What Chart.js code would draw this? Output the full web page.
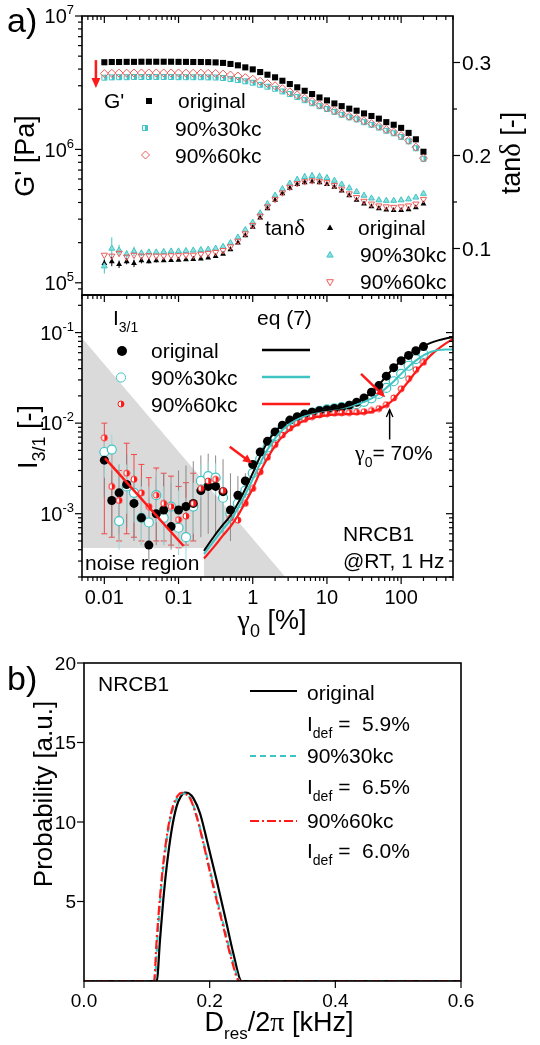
<!DOCTYPE html>
<html>
<head>
<meta charset="utf-8">
<title>NRCB1 rheology and NMR</title>
<script src="https://cdn.jsdelivr.net/npm/chart.js@4.4.1/dist/chart.umd.min.js"></script>
<style>
    html, body { margin: 0; padding: 0; background: #fff; }
    #wrap { position: relative; width: 540px; height: 1045px; overflow: hidden; }
    canvas { position: absolute; left: 0; }
</style>
</head>
<body>
<div id="wrap">
    <canvas id="modulusChart" width="540" height="300" style="top:0"></canvas>
    <canvas id="harmonicChart" width="540" height="360" style="top:290px"></canvas>
    <canvas id="probChart" width="540" height="405" style="top:640px"></canvas>
</div>
<script>
// strain amplitude gamma_0 [%]
const strain = [0.01, 0.0126, 0.0158, 0.02, 0.0251, 0.0316, 0.0398, 0.0501, 0.0631, 0.0794,
    0.1, 0.126, 0.158, 0.2, 0.251, 0.316, 0.398, 0.501, 0.631, 0.794,
    1, 1.26, 1.58, 2, 2.51, 3.16, 3.98, 5.01, 6.31, 7.94,
    10, 12.6, 15.8, 20, 25.1, 31.6, 39.8, 50.1, 63.1, 79.4,
    100, 126, 158, 200];

// G' [Pa]
const gOrig = [4.50e6, 4.52e6, 4.52e6, 4.53e6, 4.53e6, 4.54e6, 4.54e6, 4.54e6, 4.54e6, 4.54e6,
    4.53e6, 4.53e6, 4.52e6, 4.52e6, 4.51e6, 4.49e6, 4.45e6, 4.37e6, 4.27e6, 4.12e6,
    3.98e6, 3.80e6, 3.63e6, 3.47e6, 3.27e6, 3.09e6, 2.92e6, 2.75e6, 2.60e6, 2.45e6,
    2.33e6, 2.21e6, 2.11e6, 2.02e6, 1.95e6, 1.86e6, 1.78e6, 1.70e6, 1.60e6, 1.53e6,
    1.45e6, 1.33e6, 1.19e6, 9.6e5];
const g30 = [3.45e6, 3.47e6, 3.48e6, 3.48e6, 3.49e6, 3.49e6, 3.49e6, 3.49e6, 3.49e6, 3.49e6,
    3.48e6, 3.48e6, 3.48e6, 3.48e6, 3.47e6, 3.46e6, 3.43e6, 3.37e6, 3.31e6, 3.24e6,
    3.16e6, 3.05e6, 2.95e6, 2.85e6, 2.72e6, 2.60e6, 2.47e6, 2.34e6, 2.22e6, 2.11e6,
    2.01e6, 1.91e6, 1.82e6, 1.74e6, 1.68e6, 1.60e6, 1.53e6, 1.46e6, 1.38e6, 1.32e6,
    1.24e6, 1.15e6, 1.02e6, 8.5e5];
const g60 = [3.70e6, 3.72e6, 3.73e6, 3.73e6, 3.74e6, 3.74e6, 3.74e6, 3.74e6, 3.74e6, 3.74e6,
    3.74e6, 3.73e6, 3.73e6, 3.73e6, 3.72e6, 3.71e6, 3.67e6, 3.61e6, 3.55e6, 3.45e6,
    3.36e6, 3.24e6, 3.12e6, 3.00e6, 2.85e6, 2.70e6, 2.56e6, 2.42e6, 2.29e6, 2.16e6,
    2.05e6, 1.95e6, 1.86e6, 1.77e6, 1.71e6, 1.64e6, 1.56e6, 1.49e6, 1.41e6, 1.35e6,
    1.27e6, 1.17e6, 1.04e6, 8.6e5];

// tan delta [-]
const tanOrig = [0.084, 0.086, 0.083, 0.086, 0.084, 0.087, 0.086, 0.087, 0.087, 0.0872,
    0.0875, 0.088, 0.0885, 0.089, 0.090, 0.0915, 0.094, 0.099, 0.106, 0.114,
    0.123, 0.133, 0.143, 0.152, 0.159, 0.165, 0.169, 0.171, 0.172, 0.171,
    0.169, 0.166, 0.162, 0.157, 0.152, 0.148, 0.145, 0.143, 0.1415, 0.141,
    0.141, 0.142, 0.144, 0.148];
const tan30 = [0.081, 0.100, 0.098, 0.094, 0.097, 0.095, 0.096, 0.096, 0.0965, 0.097,
    0.097, 0.0975, 0.098, 0.0985, 0.099, 0.100, 0.102, 0.106, 0.112, 0.120,
    0.128, 0.138, 0.148, 0.157, 0.164, 0.170, 0.174, 0.177, 0.178, 0.1775,
    0.176, 0.173, 0.169, 0.165, 0.161, 0.157, 0.154, 0.152, 0.1515, 0.1515,
    0.152, 0.153, 0.155, 0.159];
const tan60 = [0.093, 0.092, 0.095, 0.091, 0.093, 0.092, 0.0925, 0.092, 0.092, 0.0925,
    0.0925, 0.093, 0.093, 0.094, 0.095, 0.096, 0.098, 0.102, 0.108, 0.116,
    0.125, 0.135, 0.145, 0.153, 0.160, 0.166, 0.170, 0.172, 0.173, 0.1725,
    0.171, 0.168, 0.164, 0.159, 0.155, 0.151, 0.148, 0.146, 0.145, 0.1445,
    0.145, 0.146, 0.148, 0.153];
const tanErrOrig = [0.004, 0.005, 0.004, 0.003, 0.004, 0.003, 0.002, 0.002];
const tanErr30 = [0.008, 0.012, 0.006, 0.004, 0.005, 0.003, 0.003, 0.002, 0.002, 0.002,
    0.002, 0.002, 0.002, 0.002, 0.002, 0.002, 0.002, 0.002, 0.002, 0.002,
    0.002, 0.002, 0.002, 0.003, 0.003, 0.003, 0.004, 0.004, 0.004, 0.004,
    0.003, 0.003, 0.003, 0.003];

// I3/1 [-]
const i3Orig = [3.9e-3, 1.4e-3, 1.7e-3, 2.1e-3, 1.3e-3, 9.0e-4, 4.5e-4, 1.0e-3, 1.1e-3, 7.2e-4,
    1.1e-3, 1.2e-3, 1.3e-3, 1.8e-3, 2.0e-3, 2.0e-3, 1.75e-3, 1.1e-3, 1.6e-3, 2.3e-3,
    3.5e-3, 4.8e-3, 6.3e-3, 8.0e-3, 9.5e-3, 1.08e-2, 1.18e-2, 1.26e-2, 1.32e-2, 1.37e-2,
    1.41e-2, 1.45e-2, 1.50e-2, 1.58e-2, 1.70e-2, 1.90e-2, 2.2e-2, 2.6e-2, 3.3e-2, 4.1e-2,
    4.9e-2, 5.6e-2, 6.3e-2, 7.0e-2];
const i3_30 = [4.8e-3, 5.1e-3, 8.3e-4, 2.0e-3, 1.7e-3, 9.0e-4, 8.0e-4, 1.6e-3, 9.0e-4, 1.2e-3,
    7.0e-4, 5.5e-4, 1.2e-3, 2.3e-3, 2.6e-3, 2.5e-3, 1.5e-3, 1.0e-3, 1.3e-3, 1.8e-3,
    2.8e-3, 4.0e-3, 5.4e-3, 7.2e-3, 8.8e-3, 1.02e-2, 1.14e-2, 1.23e-2, 1.31e-2, 1.37e-2,
    1.42e-2, 1.46e-2, 1.50e-2, 1.55e-2, 1.62e-2, 1.72e-2, 1.88e-2, 2.1e-2, 2.45e-2, 2.9e-2,
    3.5e-2, 4.3e-2, 5.1e-2, 5.8e-2];
const i3_60 = [6.9e-3, 2.0e-3, 1.4e-3, 2.8e-3, 2.4e-3, 1.7e-3, 1.2e-3, 1.6e-3, 1.3e-3, 1.2e-3,
    8.6e-4, 9.4e-4, 1.3e-3, 1.9e-3, 2.3e-3, 2.4e-3, 1.8e-3, 9.0e-4, 8.5e-4, 1.3e-3,
    1.9e-3, 2.9e-3, 4.2e-3, 5.8e-3, 7.4e-3, 8.8e-3, 1.0e-2, 1.1e-2, 1.18e-2, 1.23e-2,
    1.27e-2, 1.29e-2, 1.30e-2, 1.31e-2, 1.32e-2, 1.34e-2, 1.38e-2, 1.45e-2, 1.6e-2, 1.9e-2,
    2.4e-2, 3.1e-2, 3.9e-2, 4.7e-2];
const i3ErrHiOrig = [5.5e-3, 3.0e-3, 3.5e-3, 4.5e-3, 3.0e-3, 2.5e-3, 1.5e-3, 2.6e-3, 2.8e-3, 2.2e-3,
    3.0e-3, 3.4e-3, 3.8e-3, 4.4e-3, 4.6e-3, 4.4e-3, 4.0e-3, 2.8e-3, 2.6e-3, 2.8e-3];
const i3ErrLoOrig = [1.5e-3, 5.5e-4, 6e-4, 7e-4, 5e-4, 4.5e-4, 3e-4, 4.5e-4, 4.5e-4, 4e-4,
    4.5e-4, 4.5e-4, 5e-4, 5.5e-4, 6e-4, 6e-4, 6e-4, 5e-4, 8e-4, 1.5e-3];
const i3ErrHi30 = [7e-3, 7.5e-3, 3.5e-3, 3.5e-3, 3e-3, 2e-3, 2e-3, 3e-3, 2e-3, 2.5e-3,
    1.8e-3, 1.5e-3, 2.2e-3, 3.5e-3, 3.8e-3, 3.6e-3, 2.6e-3];
const i3ErrLo30 = [2.5e-3, 3e-3, 4e-4, 1e-3, 8e-4, 4.5e-4, 4e-4, 8e-4, 4.5e-4, 6e-4,
    3.5e-4, 3e-4, 6e-4, 1.5e-3, 1.7e-3, 1.6e-3, 8e-4];
const i3ErrHi60 = [1.0e-2, 5.0e-3, 3.0e-3, 6.0e-3, 4.5e-3, 3.5e-3, 2.5e-3, 3.2e-3, 2.8e-3, 2.6e-3,
    2.0e-3, 2.2e-3, 2.8e-3];
const i3ErrLo60 = [6e-4, 5.5e-4, 5e-4, 6e-4, 5.5e-4, 5e-4, 4.5e-4, 5e-4, 5e-4, 4.5e-4,
    4.2e-4, 4.5e-4, 5e-4];

// eq (7) curves
const fitStrain = [0.22, 0.3, 0.4, 0.5, 0.63, 0.8, 1, 1.26, 1.58, 2, 2.5, 3.16, 4, 5, 6.3, 8,
    10, 12.6, 15.8, 20, 25, 31.6, 40, 50, 63, 80, 100, 126, 158, 200, 250, 316, 400, 500];
const fitOrig = [3.9e-4, 5.6e-4, 7.6e-4, 9.5e-4, 1.3e-3, 1.9e-3, 2.8e-3, 4.3e-3, 6.2e-3, 8.0e-3,
    9.5e-3, 1.07e-2, 1.17e-2, 1.25e-2, 1.31e-2, 1.36e-2, 1.40e-2, 1.44e-2, 1.49e-2, 1.57e-2,
    1.70e-2, 1.90e-2, 2.2e-2, 2.65e-2, 3.3e-2, 4.1e-2, 4.9e-2, 5.7e-2, 6.4e-2, 7.1e-2,
    7.7e-2, 8.2e-2, 8.6e-2, 8.9e-2];
const fit30 = [3.6e-4, 5.0e-4, 6.8e-4, 8.5e-4, 1.15e-3, 1.65e-3, 2.4e-3, 3.6e-3, 5.1e-3, 6.8e-3,
    8.4e-3, 9.8e-3, 1.10e-2, 1.20e-2, 1.28e-2, 1.34e-2, 1.39e-2, 1.43e-2, 1.47e-2, 1.53e-2,
    1.61e-2, 1.72e-2, 1.88e-2, 2.1e-2, 2.45e-2, 2.9e-2, 3.5e-2, 4.2e-2, 4.9e-2, 5.6e-2,
    6.1e-2, 6.4e-2, 6.5e-2, 6.5e-2];
const fit60 = [3.2e-4, 4.3e-4, 5.8e-4, 7.2e-4, 9.5e-4, 1.35e-3, 1.9e-3, 2.9e-3, 4.1e-3, 5.6e-3,
    7.1e-3, 8.5e-3, 9.7e-3, 1.07e-2, 1.14e-2, 1.19e-2, 1.22e-2, 1.24e-2, 1.25e-2, 1.26e-2,
    1.27e-2, 1.29e-2, 1.33e-2, 1.42e-2, 1.57e-2, 1.85e-2, 2.3e-2, 2.9e-2, 3.7e-2, 4.6e-2,
    5.6e-2, 6.6e-2, 7.6e-2, 8.5e-2];
const noiseFitX = [0.0102, 0.117];
const noiseFitY = [4.1e-3, 4.4e-4];
const noiseCornerX = [0.005, 0.005, 2.75];
const noiseCornerY = [0.087, 2e-4, 2e-4];

// arrows (data coordinates)
const dropArrowX = [0.0077, 0.0077];
const dropArrowY = [4.67e6, 2.88e6];
const onsetArrowX = [0.49, 0.98];
const onsetArrowY = [5.5e-3, 3.6e-3];
const secondArrowX = [28.8, 61];
const secondArrowY = [0.035, 0.0193];
const markArrowX = [70, 70];
const markArrowY = [6.6e-3, 1.41e-2];

// b) residual dipolar coupling distributions
const dResOrig = [0, 0.1157, 0.121, 0.1262, 0.1316, 0.1395, 0.1475, 0.154, 0.1607, 0.167, 0.174, 0.1846, 0.1953, 0.211, 0.227, 0.2376, 0.251, 0.6];
const probOrig = [0, 0, 2.6, 5.1, 7.2, 9.5, 11.0, 11.6, 11.85, 11.8, 11.5, 10.55, 8.9, 6.35, 3.6, 1.75, 0, 0];
const dRes30 = [0, 0.1125, 0.117, 0.122, 0.127, 0.135, 0.143, 0.15, 0.157, 0.163, 0.17, 0.18, 0.191, 0.207, 0.223, 0.236, 0.249, 0.6];
const prob30 = [0, 0, 2.7, 5.4, 7.4, 9.7, 11.0, 11.6, 11.8, 11.75, 11.45, 10.3, 8.6, 5.9, 3.4, 1.4, 0, 0];
const dRes60 = [0, 0.1114, 0.1157, 0.121, 0.1262, 0.1342, 0.1421, 0.149, 0.1555, 0.162, 0.1687, 0.1793, 0.19, 0.2058, 0.2217, 0.235, 0.2472, 0.6];
const prob60 = [0, 0, 2.6, 5.3, 7.4, 9.7, 11.07, 11.65, 11.84, 11.75, 11.49, 10.33, 8.66, 5.93, 3.41, 1.32, 0, 0];
const defectLabels = ['5.9%', '6.5%', '6.0%'];

// ticks
const strainTicks = [0.01, 0.1, 1, 10, 100];
const strainTickLabels = ['0.01', '0.1', '1', '10', '100'];
const modulusTicks = [1e5, 1e6, 1e7];
const modulusExp = ['5', '6', '7'];
const tanTicks = [0.1, 0.2, 0.3];
const harmonicTicks = [1e-3, 1e-2, 1e-1];
const harmonicExp = ['-3', '-2', '-1'];
const dResTicks = [0, 0.2, 0.4, 0.6];
const dResTickLabels = ['0.0', '0.2', '0.4', '0.6'];
const probTicks = [5, 10, 15, 20];

const SANS = '"Liberation Sans", Arial, sans-serif';
const SERIF = '"Liberation Serif", "Times New Roman", serif';
const CYAN = '#3fc4c4';
const RED = '#ff1a1a';
const PINK = '#f05a5a';

function pts(xs, ys) {
    return xs.map((x, i) => ({ x, y: ys[i] }));
}

function T(t, size, dy, fam) {
    return { t, size, dy: dy || 0, fam: fam || SANS };
}

function drawRich(ctx, parts, x, y, align) {
    let w = 0;
    parts.forEach(p => { ctx.font = p.size + 'px ' + p.fam; p.w = ctx.measureText(p.t).width; w += p.w; });
    let cx = align === 'center' ? x - w / 2 : (align === 'right' ? x - w : x);
    ctx.textAlign = 'left';
    ctx.textBaseline = 'alphabetic';
    parts.forEach(p => {
        ctx.font = p.size + 'px ' + p.fam;
        ctx.fillText(p.t, cx, y + p.dy);
        cx += p.w;
    });
}

function drawTitle(ctx, parts, cx, cy, rotated) {
    ctx.save();
    ctx.translate(cx, cy);
    if (rotated) ctx.rotate(-Math.PI / 2);
    ctx.fillStyle = '#000';
    drawRich(ctx, parts, 0, parts[0].size * 0.36, 'center');
    ctx.restore();
}

function logMinor(lo, hi) {
    const out = [];
    for (let e = -6; e <= 8; e++) {
        for (let m = 2; m <= 9; m++) {
            const v = m * Math.pow(10, e);
            if (v >= lo * 0.999 && v <= hi * 1.001) out.push(v);
        }
    }
    return out;
}

function arrow(ctx, x1, y1, x2, y2, color, lw, head, solid) {
    const ang = Math.atan2(y2 - y1, x2 - x1);
    const spread = 0.42;
    ctx.save();
    ctx.strokeStyle = color;
    ctx.fillStyle = color;
    ctx.lineWidth = lw;
    const ex = solid ? x2 - head * 0.7 * Math.cos(ang) : x2;
    const ey = solid ? y2 - head * 0.7 * Math.sin(ang) : y2;
    ctx.beginPath();
    ctx.moveTo(x1, y1);
    ctx.lineTo(ex, ey);
    ctx.stroke();
    const ax1 = x2 - head * Math.cos(ang - spread), ay1 = y2 - head * Math.sin(ang - spread);
    const ax2 = x2 - head * Math.cos(ang + spread), ay2 = y2 - head * Math.sin(ang + spread);
    ctx.beginPath();
    if (solid) {
        ctx.moveTo(x2, y2); ctx.lineTo(ax1, ay1); ctx.lineTo(ax2, ay2); ctx.closePath(); ctx.fill();
    } else {
        ctx.lineWidth = lw * 0.9;
        ctx.moveTo(ax1, ay1); ctx.lineTo(x2, y2); ctx.lineTo(ax2, ay2); ctx.stroke();
    }
    ctx.restore();
}

function marker(ctx, kind, x, y, r, fill, stroke) {
    ctx.save();
    ctx.beginPath();
    if (kind === 'square') ctx.rect(x - r, y - r, 2 * r, 2 * r);
    else if (kind === 'diamond') { ctx.moveTo(x, y - r); ctx.lineTo(x + r, y); ctx.lineTo(x, y + r); ctx.lineTo(x - r, y); ctx.closePath(); }
    else if (kind === 'tri') { ctx.moveTo(x, y - r); ctx.lineTo(x + r * 0.9, y + r * 0.6); ctx.lineTo(x - r * 0.9, y + r * 0.6); ctx.closePath(); }
    else if (kind === 'triDown') { ctx.moveTo(x, y + r); ctx.lineTo(x + r * 0.9, y - r * 0.6); ctx.lineTo(x - r * 0.9, y - r * 0.6); ctx.closePath(); }
    else ctx.arc(x, y, r, 0, Math.PI * 2);
    if (fill) { ctx.fillStyle = fill; ctx.fill(); }
    if (stroke) { ctx.strokeStyle = stroke; ctx.lineWidth = 1; ctx.stroke(); }
    ctx.restore();
}

// half filled symbols used by Origin for the modified samples
function halfMarker(shape, color, size) {
    const c = document.createElement('canvas');
    c.width = size;
    c.height = size;
    const g = c.getContext('2d');
    const m = size / 2;
    g.lineWidth = 1;
    g.strokeStyle = color;
    g.fillStyle = '#fff';
    g.beginPath();
    if (shape === 'square') g.rect(1.5, 1.5, size - 3, size - 3);
    else g.arc(m, m, m - 1, 0, Math.PI * 2);
    g.fill();
    g.stroke();
    g.save();
    g.clip();
    g.fillStyle = color;
    g.fillRect(m, 0, m, size);
    g.restore();
    return c;
}

const errorBars = {
    id: 'errorBars',
    beforeDatasetsDraw(chart) {
        const ctx = chart.ctx, a = chart.chartArea;
        ctx.save();
        ctx.beginPath();
        ctx.rect(a.left, a.top, a.right - a.left, a.bottom - a.top);
        ctx.clip();
        chart.data.datasets.forEach(ds => {
            if (!ds.err && !ds.errHi) return;
            const xs = chart.scales[ds.xAxisID || 'x'];
            const ys = chart.scales[ds.yAxisID || 'y'];
            ctx.strokeStyle = ds.errColor;
            ctx.lineWidth = 1;
            ds.data.forEach((p, k) => {
                let hi, lo;
                if (ds.err) {
                    if (ds.err[k] == null) return;
                    hi = p.y + ds.err[k]; lo = p.y - ds.err[k];
                } else {
                    if (ds.errHi[k] == null) return;
                    hi = ds.errHi[k]; lo = ds.errLo[k];
                }
                const px = xs.getPixelForValue(p.x);
                const y1 = ys.getPixelForValue(hi), y2 = ys.getPixelForValue(lo);
                ctx.beginPath();
                ctx.moveTo(px, y1);
                ctx.lineTo(px, y2);
                if (ds.errCap) {
                    ctx.moveTo(px - 3, y1); ctx.lineTo(px + 3, y1);
                    ctx.moveTo(px - 3, y2); ctx.lineTo(px + 3, y2);
                }
                ctx.stroke();
            });
        });
        ctx.restore();
    }
};

function frameAxes(axes) {
    return {
        id: 'frameAxes',
        afterDraw(chart) {
            const ctx = chart.ctx, a = chart.chartArea;
            ctx.save();
            ctx.strokeStyle = '#000';
            ctx.fillStyle = '#000';
            ctx.lineWidth = 1.6;
            ctx.strokeRect(a.left, a.top, a.right - a.left, a.bottom - a.top);
            ctx.lineWidth = 1.2;
            axes.forEach(ax => {
                const s = chart.scales[ax.scale];
                const horiz = ax.pos === 'top' || ax.pos === 'bottom';
                const edge = { top: a.top, bottom: a.bottom, left: a.left, right: a.right }[ax.pos];
                const sign = (ax.pos === 'bottom' || ax.pos === 'right' ? 1 : -1) * (ax.dir === 'in' ? -1 : 1);
                const mark = (v, len) => {
                    const p = s.getPixelForValue(v);
                    ctx.beginPath();
                    if (horiz) { ctx.moveTo(p, edge); ctx.lineTo(p, edge + sign * len); }
                    else { ctx.moveTo(edge, p); ctx.lineTo(edge + sign * len, p); }
                    ctx.stroke();
                };
                (ax.minor || []).forEach(v => mark(v, 4));
                (ax.major || []).forEach(v => mark(v, 7));
                (ax.labels || []).forEach(l => {
                    const p = s.getPixelForValue(l.v);
                    const size = l.parts[0].size;
                    if (ax.pos === 'bottom') drawRich(ctx, l.parts, p, edge + ax.gap, 'center');
                    else if (ax.pos === 'left') drawRich(ctx, l.parts, edge - ax.gap, p + size * 0.36, 'right');
                    else if (ax.pos === 'right') drawRich(ctx, l.parts, edge + ax.gap, p + size * 0.36, 'left');
                });
            });
            ctx.restore();
        }
    };
}

const pow10 = e => [T('10', 20), T(e, 13, -9)];

document.addEventListener('DOMContentLoaded', () => {
    const halfSquare = halfMarker('square', CYAN, 8);
    const halfCircle = halfMarker('circle', RED, 8);

    const common = {
        responsive: false,
        animation: false,
        devicePixelRatio: 1,
        events: [],
        plugins: { legend: { display: false }, tooltip: { enabled: false } }
    };

    // ---------- a) top: G' and tan delta ----------
    const modulusNotes = {
        id: 'modulusNotes',
        afterDatasetsDraw(chart) {
            const ctx = chart.ctx, xs = chart.scales.x, ys = chart.scales.y;
            arrow(ctx, xs.getPixelForValue(dropArrowX[0]), ys.getPixelForValue(dropArrowY[0]),
                xs.getPixelForValue(dropArrowX[1]), ys.getPixelForValue(dropArrowY[1]), RED, 2.5, 11, true);
            ctx.save();
            ctx.fillStyle = '#000';
            drawRich(ctx, [T('G\'', 21)], 104, 108, 'left');
            marker(ctx, 'square', 149, 101, 3, '#000');
            drawRich(ctx, [T('original', 21)], 178, 108, 'left');
            ctx.drawImage(halfSquare, 141, 124);
            drawRich(ctx, [T('90%30kc', 21)], 175, 136, 'left');
            marker(ctx, 'diamond', 145.5, 155, 4, '#fff', PINK);
            drawRich(ctx, [T('90%60kc', 21)], 175, 163, 'left');

            drawRich(ctx, [T('tan', 21), T('\u03b4', 23, 0, SERIF)], 265, 235, 'left');
            marker(ctx, 'tri', 330, 228, 3.5, '#000');
            drawRich(ctx, [T('original', 21)], 358, 235, 'left');
            marker(ctx, 'tri', 330, 255, 3.5, '#8fdede', CYAN);
            drawRich(ctx, [T('90%30kc', 21)], 360, 262, 'left');
            marker(ctx, 'triDown', 330, 282, 3.8, '#fff', PINK);
            drawRich(ctx, [T('90%60kc', 21)], 360, 289, 'left');

            drawRich(ctx, [T('a)', 34)], 7, 32, 'left');
            drawTitle(ctx, [T('G\' [Pa]', 27)], 24, 156, true);
            drawTitle(ctx, [T('tan', 27), T('\u03b4', 29, 0, SERIF), T(' [-]', 27)], 510, 153, true);
            ctx.restore();
        }
    };

    new Chart(document.getElementById('modulusChart'), {
        type: 'scatter',
        data: {
            datasets: [
                { data: pts(strain, g60), pointStyle: 'rectRot', pointRadius: 4, backgroundColor: 'rgba(255,255,255,0)', borderColor: PINK, borderWidth: 1, order: 1 },
                { data: pts(strain, g30), pointStyle: halfSquare, order: 2 },
                { data: pts(strain, gOrig), pointStyle: 'rect', pointRadius: 4.3, backgroundColor: '#000', borderColor: '#000', borderWidth: 0, order: 3 },
                { data: pts(strain, tan60), yAxisID: 'y2', pointStyle: 'triangle', rotation: 180, pointRadius: 3.6, backgroundColor: 'rgba(255,255,255,0)', borderColor: PINK, borderWidth: 1, order: 1 },
                { data: pts(strain, tan30), yAxisID: 'y2', pointStyle: 'triangle', pointRadius: 3.4, backgroundColor: '#8fdede', borderColor: CYAN, borderWidth: 1, order: 2, err: tanErr30, errColor: CYAN },
                { data: pts(strain, tanOrig), yAxisID: 'y2', pointStyle: 'triangle', pointRadius: 3.4, backgroundColor: '#000', borderColor: '#000', borderWidth: 0, order: 3, err: tanErrOrig, errColor: '#000' }
            ]
        },
        options: {
            ...common,
            layout: { autoPadding: false, padding: { left: 82, right: 87, top: 16, bottom: 5 } },
            scales: {
                x: { type: 'logarithmic', min: 0.005, max: 500, display: false },
                y: { type: 'logarithmic', min: 8.1e4, max: 1e7, display: false },
                y2: { type: 'linear', axis: 'y', min: 0.05, max: 0.35, display: false }
            }
        },
        plugins: [errorBars, modulusNotes, frameAxes([
            { scale: 'x', pos: 'top', dir: 'in', major: strainTicks, minor: logMinor(0.005, 500) },
            { scale: 'y', pos: 'left', dir: 'out', major: modulusTicks, minor: logMinor(8.1e4, 1e7), gap: 8,
                labels: modulusTicks.map((v, i) => ({ v, parts: pow10(modulusExp[i]) })) },
            { scale: 'y2', pos: 'right', dir: 'out', major: tanTicks, minor: [0.15, 0.25], gap: 9,
                labels: tanTicks.map(v => ({ v, parts: [T(v.toFixed(1), 21)] })) }
        ])]
    });

    // ---------- a) bottom: I3/1 ----------
    const noiseShade = {
        id: 'noiseShade',
        beforeDatasetsDraw(chart) {
            const ctx = chart.ctx, xs = chart.scales.x, ys = chart.scales.y, a = chart.chartArea;
            ctx.save();
            ctx.fillStyle = '#dadada';
            ctx.beginPath();
            noiseCornerX.forEach((x, i) => {
                const px = xs.getPixelForValue(x), py = ys.getPixelForValue(noiseCornerY[i]);
                if (i) ctx.lineTo(px, py); else ctx.moveTo(px, py);
            });
            ctx.closePath();
            ctx.fill();
            ctx.fillStyle = '#fff';
            ctx.fillRect(a.left, a.bottom - 29, 122, 29);
            ctx.fillStyle = '#000';
            drawRich(ctx, [T('noise region', 21)], a.left + 3, a.bottom - 7, 'left');
            ctx.restore();
        }
    };

    const harmonicNotes = {
        id: 'harmonicNotes',
        afterDatasetsDraw(chart) {
            const ctx = chart.ctx, xs = chart.scales.x, ys = chart.scales.y;
            const px = v => xs.getPixelForValue(v), py = v => ys.getPixelForValue(v);
            arrow(ctx, px(onsetArrowX[0]), py(onsetArrowY[0]), px(onsetArrowX[1]), py(onsetArrowY[1]), RED, 2.5, 10, true);
            arrow(ctx, px(secondArrowX[0]), py(secondArrowY[0]), px(secondArrowX[1]), py(secondArrowY[1]), RED, 2.5, 10, true);
            arrow(ctx, px(markArrowX[0]), py(markArrowY[0]), px(markArrowX[1]), py(markArrowY[1]), '#000', 1.5, 8, false);
            ctx.save();
            ctx.translate(0, -290);
            ctx.fillStyle = '#000';
            drawRich(ctx, [T('I', 21), T('3/1', 14, 7)], 113, 325, 'left');
            drawRich(ctx, [T('eq (7)', 21)], 257, 325, 'left');
            marker(ctx, 'circle', 122, 351, 5, '#000');
            drawRich(ctx, [T('original', 21)], 151, 358, 'left');
            marker(ctx, 'circle', 121, 377.5, 4.6, '#fff', CYAN);
            drawRich(ctx, [T('90%30kc', 21)], 151, 385, 'left');
            ctx.drawImage(halfCircle, 117, 400);
            drawRich(ctx, [T('90%60kc', 21)], 151, 412, 'left');
            [['#000', 350], [CYAN, 377], [RED, 404]].forEach(([c, y]) => {
                ctx.strokeStyle = c;
                ctx.lineWidth = 2.5;
                ctx.beginPath(); ctx.moveTo(262, y); ctx.lineTo(310, y); ctx.stroke();
            });
            drawRich(ctx, [T('\u03b3', 22, 0, SERIF), T('0', 14, 7), T('= 70%', 21)], 355, 460, 'left');
            drawRich(ctx, [T('NRCB1', 21)], 343, 541, 'left');
            drawRich(ctx, [T('@RT, 1 Hz', 21)], 343, 568, 'left');
            drawTitle(ctx, [T('I', 27), T('3/1', 18, 8), T(' [-]', 27)], 27, 437, true);
            drawRich(ctx, [T('\u03b3', 28, 0, SERIF), T('0', 18, 8), T(' [%]', 27)], 272, 629, 'center');
            ctx.restore();
        }
    };

    new Chart(document.getElementById('harmonicChart'), {
        type: 'scatter',
        data: {
            datasets: [
                { data: pts(fitStrain, fitOrig), showLine: true, borderColor: '#000', borderWidth: 2, pointRadius: 0, cubicInterpolationMode: 'monotone', order: 0 },
                { data: pts(fitStrain, fit30), showLine: true, borderColor: CYAN, borderWidth: 2, pointRadius: 0, cubicInterpolationMode: 'monotone', order: 0 },
                { data: pts(fitStrain, fit60), showLine: true, borderColor: RED, borderWidth: 2.2, pointRadius: 0, cubicInterpolationMode: 'monotone', order: 0 },
                { data: pts(noiseFitX, noiseFitY), showLine: true, borderColor: RED, borderWidth: 2.5, pointRadius: 0, order: 0 },
                { data: pts(strain, i3_60), pointStyle: halfCircle, order: 1, errHi: i3ErrHi60, errLo: i3ErrLo60, errColor: '#f04848', errCap: true },
                { data: pts(strain, i3Orig), pointStyle: 'circle', pointRadius: 4.5, backgroundColor: '#000', borderWidth: 0, order: 2, errHi: i3ErrHiOrig, errLo: i3ErrLoOrig, errColor: '#8a8a8a' },
                { data: pts(strain, i3_30), pointStyle: 'circle', pointRadius: 4.5, backgroundColor: '#fff', borderColor: CYAN, borderWidth: 1.2, order: 3, errHi: i3ErrHi30, errLo: i3ErrLo30, errColor: '#9ad9d9' }
            ]
        },
        options: {
            ...common,
            layout: { autoPadding: false, padding: { left: 82, right: 87, top: 5, bottom: 73 } },
            scales: {
                x: { type: 'logarithmic', min: 0.005, max: 500, display: false },
                y: { type: 'logarithmic', min: 2e-4, max: 0.26, display: false }
            }
        },
        plugins: [noiseShade, errorBars, harmonicNotes, frameAxes([
            { scale: 'x', pos: 'top', dir: 'in', major: strainTicks, minor: logMinor(0.005, 500) },
            { scale: 'x', pos: 'bottom', dir: 'out', major: strainTicks, minor: logMinor(0.005, 500), gap: 27,
                labels: strainTicks.map((v, i) => ({ v, parts: [T(strainTickLabels[i], 20)] })) },
            { scale: 'y', pos: 'left', dir: 'out', major: harmonicTicks, minor: logMinor(2e-4, 0.26), gap: 8,
                labels: harmonicTicks.map((v, i) => ({ v, parts: pow10(harmonicExp[i]) })) },
            { scale: 'y', pos: 'right', dir: 'in', major: harmonicTicks, minor: logMinor(2e-4, 0.26) }
        ])]
    });

    // ---------- b) probability distributions ----------
    const probNotes = {
        id: 'probNotes',
        afterDatasetsDraw(chart) {
            const ctx = chart.ctx;
            ctx.save();
            ctx.translate(0, -640);
            ctx.fillStyle = '#000';
            drawRich(ctx, [T('b)', 34)], 7, 690, 'left');
            drawRich(ctx, [T('NRCB1', 21)], 98, 691, 'left');
            const rows = [
                { name: 'original', color: '#000', dash: [], y: 691, base: 700, defBase: 731 },
                { name: '90%30kc', color: CYAN, dash: [6, 4], y: 756, base: 763, defBase: 794 },
                { name: '90%60kc', color: RED, dash: [9, 3, 2, 3], y: 821, base: 828, defBase: 858 }
            ];
            rows.forEach((r, i) => {
                ctx.strokeStyle = r.color;
                ctx.lineWidth = 2.2;
                ctx.setLineDash(r.dash);
                ctx.beginPath(); ctx.moveTo(250, r.y); ctx.lineTo(297, r.y); ctx.stroke();
                ctx.setLineDash([]);
                drawRich(ctx, [T(r.name, 21)], 307, r.base, 'left');
                drawRich(ctx, [T('I', 21), T('def', 14, 7), T(' =  ' + defectLabels[i], 21)], 307, r.defBase, 'left');
            });
            drawTitle(ctx, [T('Probability [a.u.]', 26)], 43, 794, true);
            drawRich(ctx, [T('D', 27), T('res', 17, 8), T('/2', 27), T('\u03c0', 28, 0, SERIF), T(' [kHz]', 27)], 279, 1031, 'center');
            ctx.restore();
        }
    };

    new Chart(document.getElementById('probChart'), {
        type: 'scatter',
        data: {
            datasets: [
                { data: pts(dRes60, prob60), showLine: true, borderColor: RED, borderWidth: 2.2, borderDash: [9, 3, 2, 3], pointRadius: 0, cubicInterpolationMode: 'monotone', order: 0 },
                { data: pts(dRes30, prob30), showLine: true, borderColor: CYAN, borderWidth: 2.2, borderDash: [6, 4], pointRadius: 0, cubicInterpolationMode: 'monotone', order: 1 },
                { data: pts(dResOrig, probOrig), showLine: true, borderColor: '#000', borderWidth: 2.2, pointRadius: 0, cubicInterpolationMode: 'monotone', order: 2 }
            ]
        },
        options: {
            ...common,
            layout: { autoPadding: false, padding: { left: 84, right: 79, top: 23, bottom: 64 } },
            scales: {
                x: { type: 'linear', min: 0, max: 0.6, display: false },
                y: { type: 'linear', min: 0, max: 20, display: false }
            }
        },
        plugins: [probNotes, frameAxes([
            { scale: 'x', pos: 'bottom', dir: 'out', major: dResTicks, gap: 26,
                labels: dResTicks.map((v, i) => ({ v, parts: [T(dResTickLabels[i], 19)] })) },
            { scale: 'y', pos: 'left', dir: 'out', major: probTicks, gap: 8,
                labels: probTicks.map(v => ({ v, parts: [T(String(v), 19)] })) }
        ])]
    });
});
</script>
</body>
</html>
